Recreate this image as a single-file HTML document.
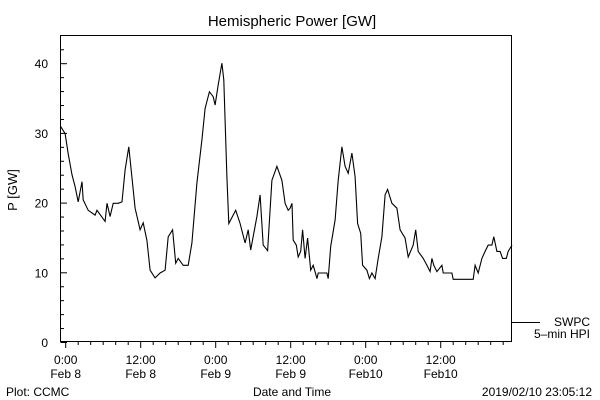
<!DOCTYPE html>
<html><head><meta charset="utf-8"><style>
html,body{margin:0;padding:0;background:#fff;}
svg{display:block;font-family:"Liberation Sans",sans-serif;}
</style></head><body>
<svg id="chart" width="600" height="400" viewBox="0 0 600 400">
<rect x="0" y="0" width="600" height="400" fill="#fff"/>
<text x="292" y="26" font-size="15" text-anchor="middle">Hemispheric Power [GW]</text>
<text x="17" y="190" font-size="13" text-anchor="middle" transform="rotate(-90 17 190)">P [GW]</text>
<rect x="60.5" y="35.5" width="451" height="306" fill="none" stroke="#000" stroke-width="1"/>
<g id="yaxis"></g>
<g id="xaxis"></g>
<g id="series"></g>
<line x1="512" y1="322.5" x2="540" y2="322.5" stroke="#000"/>
<text x="590" y="326" font-size="12" text-anchor="end">SWPC</text>
<text x="590" y="338" font-size="12" text-anchor="end">5–min HPI</text>
<text x="292" y="396" font-size="12" text-anchor="middle">Date and Time</text>
<text x="6" y="396" font-size="12">Plot: CCMC</text>
<text x="592" y="396" font-size="12" text-anchor="end">2019/02/10 23:05:12</text>
</svg>
<script>
const hours = [-0.8,-0.1,0.4,1.0,1.5,2.0,2.6,2.8,3.6,4.7,5.0,6.3,6.6,7.1,7.6,8.4,9.0,9.5,10.1,11.1,11.9,12.4,13.0,13.5,14.3,15.1,15.9,16.4,17.1,17.6,18.0,18.8,19.6,20.2,21.0,21.8,22.3,23.0,23.6,23.9,24.4,25.0,25.3,25.8,26.1,27.2,27.9,28.7,29.2,29.6,30.6,31.1,31.6,32.3,33.0,33.8,34.6,35.1,35.6,35.9,36.2,36.4,36.9,37.2,37.6,37.9,38.3,38.7,39.2,39.6,40.2,40.4,41.8,42.0,42.4,43.1,43.6,44.2,44.7,45.2,45.8,46.3,46.7,47.2,47.5,48.2,48.6,49.0,49.5,50.0,50.6,51.1,51.5,52.2,53.0,53.5,54.3,54.8,55.6,56.0,56.4,57.2,57.8,58.3,58.6,58.9,59.4,60.2,60.4,61.8,62.0,65.2,65.5,66.0,66.6,67.1,67.6,68.2,68.5,69.0,69.5,69.9,70.5,70.8,71.4];
const power = [30.9,29.9,27,24,22.3,20.1,23,20.4,18.9,18.2,18.9,17.3,19.9,18,19.9,19.9,20.1,24.7,28,19.2,16.1,17.1,14.6,10.3,9.2,9.9,10.3,15.1,16.1,11.3,12,11,11,14.2,22.8,29,33.5,35.9,35.2,34,36.9,40,37.6,23.7,17,18.9,17,14.2,16.1,13.2,18,21.1,13.9,13.1,23.2,25.2,23.2,19.9,18.9,19.2,19.9,14.6,13.9,12.2,13,16.1,12,14.9,10.3,11,9.1,9.9,9.9,9.1,13.7,17.5,23.2,28,25.2,24.2,27.1,23.7,17,15.6,11,10.3,9.1,9.9,9.1,12,15.1,21.1,21.9,19.9,19.2,16.1,14.9,12.2,13.9,16.1,13,12,11,10.1,12,11,10.1,11,9.9,9.9,9,9,11,9.9,12,13,13.9,13.9,15.1,13,13,12,12,13,13.9];
const yTicks = [0,10,20,30,40];
const xTickHours = [0,12,24,36,48,60];
const xTickTimes = ["0:00","12:00","0:00","12:00","0:00","12:00"];
const xTickDates = ["Feb 8","Feb 8","Feb 9","Feb 9","Feb10","Feb10"];

const NS="http://www.w3.org/2000/svg";
const X0=65.7, PXH=6.25, Y0=342, PXV=6.97;
function xs(h){return X0+h*PXH;}
function ys(v){return Y0-v*PXV;}
function mk(tag,attrs,parent){const e=document.createElementNS(NS,tag);for(const k in attrs)e.setAttribute(k,attrs[k]);parent.appendChild(e);return e;}
const yg=document.getElementById('yaxis'), xg=document.getElementById('xaxis'), sg=document.getElementById('series');
for(let v=0;v<=42;v+=2){
  const t=mk('line',{x1:60.5,x2:(v%10===0?67:64),y1:ys(v)+0.5,y2:ys(v)+0.5,stroke:'#000'},yg);
  
  
}
yTicks.forEach(v=>{
  const t=mk('text',{x:48,y:ys(v)+5,'font-size':12,'text-anchor':'end'},yg);
  t.textContent=v;
  
  
});
for(let h=0;h<=70;h+=2){
  const t=mk('line',{x1:xs(h),x2:xs(h),y1:341.5,y2:(h%12===0?348:345),stroke:'#000'},xg);
  
  
}
xTickHours.forEach((h,i)=>{
  const a=mk('text',{x:xs(h),y:364,'font-size':12,'text-anchor':'middle'},xg);
  a.textContent=xTickTimes[i];
  
  
  const b=mk('text',{x:xs(h),y:378,'font-size':12,'text-anchor':'middle'},xg);
  b.textContent=xTickDates[i];
  
  
});
const pts=hours.map((h,i)=>xs(h).toFixed(1)+','+ys(power[i]).toFixed(1)).join(' ');
const pl=mk('polyline',{points:pts,fill:'none',stroke:'#000','stroke-width':1.1},sg);


</script>
</body></html>
